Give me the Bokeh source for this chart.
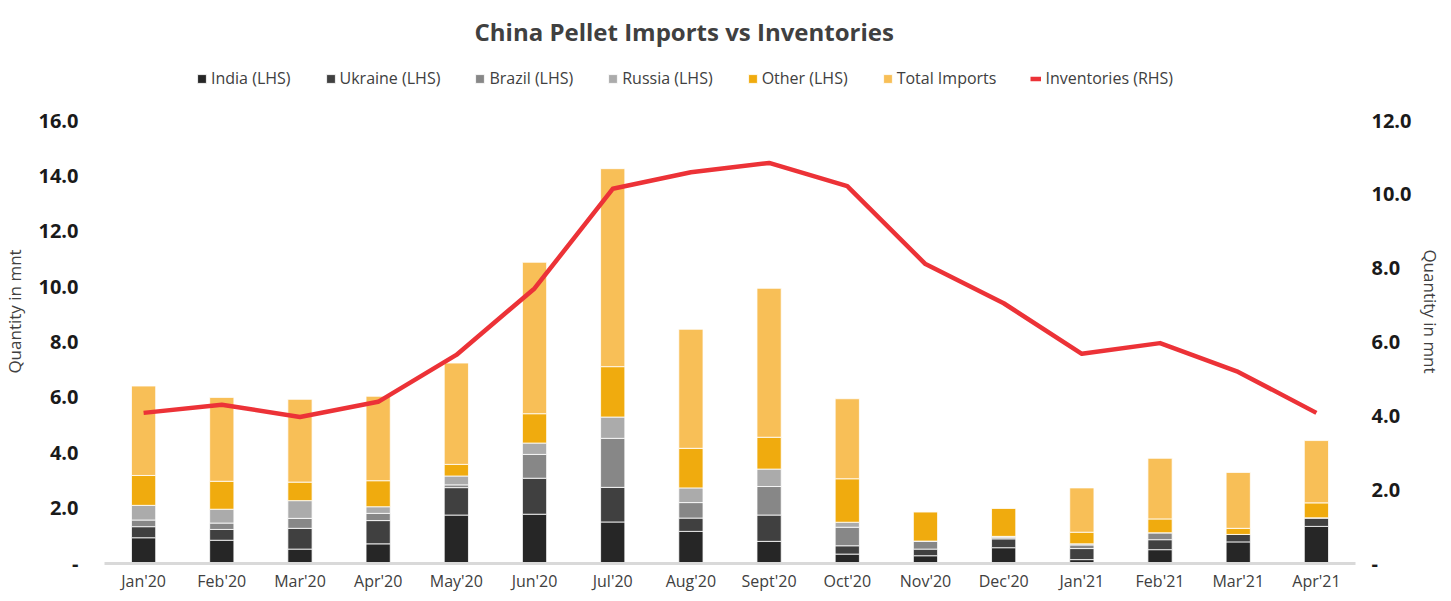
from bokeh.plotting import figure
from bokeh.models import (Range1d, LinearAxis, FixedTicker, NumeralTickFormatter,
                          Legend, LegendItem)
from bokeh.embed import file_html
from bokeh.resources import INLINE

months = ["Jan'20", "Feb'20", "Mar'20", "Apr'20", "May'20", "Jun'20", "Jul'20", "Aug'20",
          "Sept'20", "Oct'20", "Nov'20", "Dec'20", "Jan'21", "Feb'21", "Mar'21", "Apr'21"]

india   = [0.93, 0.84, 0.52, 0.71, 1.75, 1.78, 1.50, 1.16, 0.80, 0.34, 0.28, 0.57, 0.14, 0.50, 0.78, 1.34]
ukraine = [0.40, 0.39, 0.75, 0.84, 0.99, 1.30, 1.25, 0.48, 0.95, 0.30, 0.24, 0.32, 0.40, 0.36, 0.27, 0.31]
brazil  = [0.24, 0.23, 0.36, 0.26, 0.10, 0.86, 1.77, 0.56, 1.03, 0.67, 0.29, 0.06, 0.13, 0.25, 0.00, 0.00]
russia  = [0.53, 0.50, 0.64, 0.24, 0.32, 0.41, 0.77, 0.53, 0.63, 0.18, 0.00, 0.03, 0.04, 0.00, 0.00, 0.00]
other   = [1.08, 1.01, 0.67, 0.94, 0.42, 1.06, 1.82, 1.43, 1.15, 1.57, 1.06, 1.02, 0.42, 0.50, 0.22, 0.54]
total_imports = [3.23, 3.03, 2.99, 3.05, 3.66, 5.47, 7.15, 4.30, 5.38, 2.89, 0.00, 0.00, 1.60, 2.19, 2.02, 2.25]
inventories = [4.08, 4.30, 3.97, 4.38, 5.65, 7.45, 10.15, 10.60, 10.85, 10.22, 8.11, 7.05, 5.68, 5.97, 5.19, 4.08]

left_ticks = [0, 2, 4, 6, 8, 10, 12, 14, 16]
right_ticks = [0, 2, 4, 6, 8, 10, 12]

FONT = "Open Sans"
TXT = "#404040"

series = ["india", "ukraine", "brazil", "russia", "other", "total"]
labels = ["India (LHS)", "Ukraine (LHS)", "Brazil (LHS)", "Russia (LHS)", "Other (LHS)", "Total Imports"]
colors = ["#262626", "#404040", "#878787", "#ababab", "#f0ab0e", "#f8bf57"]

data = dict(x=months, india=india, ukraine=ukraine, brazil=brazil, russia=russia,
            other=other, total=total_imports, inv=inventories)

# frame extends above 16.0 to leave room for the legend inside the plot area
FRAME_H = 504
LEFT_TOP = 16 * FRAME_H / 443.0
RIGHT_TOP = 12 * FRAME_H / 443.0

p = figure(x_range=months, y_range=Range1d(0, LEFT_TOP), frame_width=1251, frame_height=FRAME_H,
           output_backend="svg", toolbar_location=None,
           min_border_left=96, min_border_right=86, min_border_top=0, min_border_bottom=28)
p.extra_y_ranges = {"rhs": Range1d(0, RIGHT_TOP)}

p.title.text = "China Pellet Imports vs Inventories"
p.title.align = "left"
p.title.offset = 370
p.title.standoff = 24
p.title.text_font = FONT
p.title.text_font_size = "24px"
p.title.text_font_style = "bold"
p.title.text_color = TXT

bars = p.vbar_stack(series, x="x", width=0.31, source=data, color=colors,
                    line_color="white", line_width=0.8)
line = p.line(x="x", y="inv", source=data, y_range_name="rhs", line_color="#ec3237",
              line_width=4.5, line_join="round")

# axes
p.xaxis.axis_line_color = "#d9d9d9"
p.xaxis.axis_line_width = 3
p.xaxis.major_tick_line_color = None
p.xaxis.minor_tick_line_color = None
p.xaxis.major_tick_out = 0
p.xaxis.major_label_text_font = FONT
p.xaxis.major_label_text_font_size = "16px"
p.xaxis.major_label_text_color = TXT
p.xaxis.major_label_standoff = 6

for ax in p.yaxis:
    ax.ticker = FixedTicker(ticks=left_ticks)
p.yaxis.formatter = NumeralTickFormatter(format="0.0")
p.yaxis.major_label_overrides = {0: "-"}
p.yaxis.axis_line_color = None
p.yaxis.major_tick_line_color = None
p.yaxis.minor_tick_line_color = None
p.yaxis.major_label_text_font = FONT
p.yaxis.major_label_text_font_size = "20px"
p.yaxis.major_label_text_font_style = "bold"
p.yaxis.major_label_text_color = "#1a1a1a"
p.yaxis.major_label_standoff = 20
p.yaxis.axis_label = "Quantity in mnt"
p.yaxis.axis_label_text_font = FONT
p.yaxis.axis_label_text_font_size = "17px"
p.yaxis.axis_label_text_font_style = "normal"
p.yaxis.axis_label_text_color = TXT
p.yaxis.axis_label_standoff = 9

rax = LinearAxis(y_range_name="rhs", ticker=FixedTicker(ticks=right_ticks),
                 formatter=NumeralTickFormatter(format="0.0"))
rax.major_label_overrides = {0: "-"}
rax.axis_line_color = None
rax.major_tick_line_color = None
rax.minor_tick_line_color = None
rax.major_tick_out = 0
rax.major_label_text_font = FONT
rax.major_label_text_font_size = "20px"
rax.major_label_text_font_style = "bold"
rax.major_label_text_color = "#1a1a1a"
rax.major_label_standoff = 16
rax.axis_label = "Quantity in mnt"
rax.axis_label_text_font = FONT
rax.axis_label_text_font_size = "17px"
rax.axis_label_text_font_style = "normal"
rax.axis_label_text_color = TXT
rax.axis_label_standoff = 4
p.add_layout(rax, "right")

p.xgrid.grid_line_color = None
p.ygrid.grid_line_color = None
p.outline_line_color = None

items = [LegendItem(label=l, renderers=[r]) for l, r in zip(labels, bars)]
items.append(LegendItem(label="Inventories (RHS)", renderers=[line]))
legend = Legend(items=items, orientation="horizontal", location=(92, 474),
                label_text_font=FONT, label_text_font_size="16px", label_text_color=TXT,
                glyph_width=11, glyph_height=11, spacing=34, label_standoff=4,
                border_line_color=None, background_fill_alpha=0, padding=4, margin=0)
p.add_layout(legend, "center")

open("out.html", "w").write(file_html(p, INLINE))
